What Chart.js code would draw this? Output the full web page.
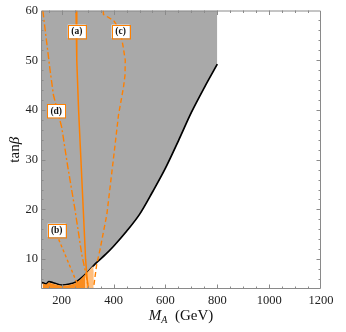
<!DOCTYPE html>
<html><head><meta charset="utf-8">
<script src="https://cdn.jsdelivr.net/npm/chart.js@4"></script>
<style>html,body{margin:0;padding:0;background:#fff;}</style>
</head><body>
<canvas id="c" width="346" height="332"></canvas>
<script>
// Exclusion boundary (black curve), shaded region above it
const boundaryX = [120, 130, 140, 150, 170, 200, 230, 250, 270, 300, 330, 370, 400, 450, 500, 550, 600, 650, 700, 750, 800];
const boundaryY = [5.3, 5.2, 5.0, 5.5, 5.2, 4.8, 5.0, 5.3, 6.0, 7.4, 9.1, 11.0, 12.6, 15.6, 19.0, 23.5, 28.3, 33.8, 39.5, 44.5, 49.2];
// Curve (a) solid
const curveAX = [255, 258, 265, 274, 283, 292, 298, 303];
const curveAY = [60, 50, 40, 30, 20, 10, 6, 4];
// Curve (b) dotted
const curveBX = [180, 258];
const curveBY = [15.0, 5.3];
// Curve (c) dashed
const curveCX = [360, 361, 400, 425, 436, 445, 444, 438, 419, 399, 374, 348, 335, 322];
const curveCY = [60, 59.2, 58, 56, 53, 50, 47, 44.5, 39, 30, 19, 12, 9, 4];
// Curve (d) dash-dot
const curveDX = [127, 155, 168, 200, 222, 251, 277, 294, 303];
const curveDY = [60, 48, 43, 36.5, 29, 20, 11, 6.8, 4];
// Orange allowed region below the boundary
const orangeDarkX = [126, 140, 150, 170, 200, 230, 250, 270, 290];
const orangeDarkY = [5.1, 4.9, 5.3, 5.0, 4.6, 4.8, 5.1, 5.8, 6.9];
const orangeLightX = [290, 300, 315, 333, 322];
const orangeLightY = [6.9, 7.4, 8.3, 9.0, 4.0];
// Tick labels
const xTickValues = [200, 400, 600, 800, 1000, 1200];
const yTickValues = [10, 20, 30, 40, 50, 60];
// Curve labels
const labelTexts = ['(a)', '(b)', '(c)', '(d)'];
const labelX = [258, 180.5, 427, 178.6];
const labelY = [55.8, 15.8, 55.8, 39.8];

const ORANGE = 'rgb(255,128,0)';
const SERIF = '"Liberation Serif", "DejaVu Serif", serif';
function pts(xs, ys) { return xs.map((x, i) => ({ x: x, y: ys[i] })); }

const framePlugin = {
  id: 'frame',
  afterDatasetsDraw(chart) {
    const ctx = chart.ctx, a = chart.chartArea;
    const xs = chart.scales.x, ys = chart.scales.y;
    ctx.save();
    ctx.strokeStyle = '#8a8a8a';
    ctx.lineWidth = 1;
    ctx.beginPath();
    ctx.rect(a.left + 0.5, a.top + 0.5, a.right - a.left - 1, a.bottom - a.top - 1);
    ctx.stroke();
    ctx.beginPath();
    for (let v = 150; v < 1200; v += 50) {
      const px = Math.round(xs.getPixelForValue(v)) + 0.5;
      const L = (v % 200 === 0) ? 4.5 : 2.5;
      ctx.moveTo(px, a.bottom); ctx.lineTo(px, a.bottom - L);
      ctx.moveTo(px, a.top); ctx.lineTo(px, a.top + L);
    }
    for (let v = 6; v < 60; v += 2) {
      const py = Math.round(ys.getPixelForValue(v)) + 0.5;
      const L = (v % 10 === 0) ? 4.5 : 2.5;
      ctx.moveTo(a.left, py); ctx.lineTo(a.left + L, py);
      ctx.moveTo(a.right, py); ctx.lineTo(a.right - L, py);
    }
    ctx.stroke();
    // curve labels
    ctx.font = 'bold 9.5px ' + SERIF;
    ctx.textAlign = 'center';
    ctx.textBaseline = 'middle';
    labelTexts.forEach((t, i) => {
      const cx = xs.getPixelForValue(labelX[i]);
      const cy = ys.getPixelForValue(labelY[i]);
      const w = 18, h = 13.5;
      ctx.fillStyle = '#fff';
      ctx.fillRect(cx - w / 2, cy - h / 2, w, h);
      ctx.strokeStyle = ORANGE;
      ctx.lineWidth = 1;
      ctx.strokeRect(Math.round(cx - w / 2) + 0.5, Math.round(cy - h / 2) + 0.5, w, h);
      ctx.fillStyle = '#111';
      ctx.fillText(t, cx, cy + 0.5);
    });
    ctx.restore();
  },
  afterDraw(chart) {
    const ctx = chart.ctx, a = chart.chartArea;
    ctx.save();
    ctx.fillStyle = '#111';
    ctx.textBaseline = 'alphabetic';
    // x title: M_A  (GeV)
    const f1 = 'italic 15px ' + SERIF, f2 = 'italic 10px ' + SERIF, f3 = '15px ' + SERIF;
    ctx.font = f1; const w1 = ctx.measureText('M').width;
    ctx.font = f2; const w2 = ctx.measureText('A').width;
    ctx.font = f3; const w3 = ctx.measureText('  (GeV)').width;
    let x0 = (a.left + a.right) / 2 - (w1 + w2 + w3) / 2;
    const by = 320;
    ctx.textAlign = 'left';
    ctx.font = f1; ctx.fillText('M', x0, by); x0 += w1;
    ctx.font = f2; ctx.fillText('A', x0, by + 3); x0 += w2;
    ctx.font = f3; ctx.fillText('  (GeV)', x0, by);
    // y title: tanβ
    ctx.translate(19, (a.top + a.bottom) / 2);
    ctx.rotate(-Math.PI / 2);
    const g1 = '15px ' + SERIF, g2 = 'italic 15px ' + SERIF;
    ctx.font = g1; const u1 = ctx.measureText('tan').width;
    ctx.font = g2; const u2 = ctx.measureText('β').width;
    let y0 = -(u1 + u2) / 2;
    ctx.font = g1; ctx.fillText('tan', y0, 0);
    ctx.font = g2; ctx.fillText('β', y0 + u1, 0);
    ctx.restore();
  }
};

new Chart(document.getElementById('c'), {
  type: 'line',
  data: {
    datasets: [
      { data: pts(curveAX, curveAY), borderColor: ORANGE, borderWidth: 1.5, fill: false },
      { data: pts(curveBX, curveBY), borderColor: ORANGE, borderWidth: 1.4, borderDash: [3, 2.5], fill: false },
      { data: pts(curveCX, curveCY), borderColor: ORANGE, borderWidth: 1.4, borderDash: [5, 3], fill: false },
      { data: pts(curveDX, curveDY), borderColor: ORANGE, borderWidth: 1.4, borderDash: [7, 2.5, 2, 2.5], fill: false },
      { data: pts(orangeLightX, orangeLightY), borderWidth: 0, borderColor: 'rgba(0,0,0,0)', backgroundColor: 'rgb(255,190,125)', fill: 'start' },
      { data: pts(orangeDarkX, orangeDarkY), borderWidth: 0, borderColor: 'rgba(0,0,0,0)', backgroundColor: 'rgb(250,140,30)', fill: 'start' },
      { data: pts(boundaryX, boundaryY), borderColor: '#000', borderWidth: 1.7, backgroundColor: '#a9a9a9', fill: 'end', cubicInterpolationMode: 'monotone' }
    ]
  },
  options: {
    responsive: false,
    animation: false,
    devicePixelRatio: 1,
    layout: { padding: { top: 10, right: 25, left: 0, bottom: 0 } },
    plugins: { legend: { display: false }, tooltip: { enabled: false } },
    elements: { point: { radius: 0 }, line: { tension: 0 } },
    scales: {
      x: {
        type: 'linear', min: 120, max: 1200,
        afterBuildTicks: s => { s.ticks = xTickValues.map(v => ({ value: v })); },
        afterFit: s => { s.height = 43; },
        grid: { display: false, drawTicks: false },
        border: { display: false },
        ticks: { padding: 4, autoSkip: false, maxRotation: 0, color: '#222', font: { family: SERIF, size: 12.5 }, callback: v => String(v) }
      },
      y: {
        type: 'linear', min: 4, max: 60,
        afterBuildTicks: s => { s.ticks = yTickValues.map(v => ({ value: v })); },
        afterFit: s => { s.width = 41; },
        grid: { display: false, drawTicks: false },
        border: { display: false },
        ticks: { padding: 3, autoSkip: false, color: '#222', font: { family: SERIF, size: 12.5 }, callback: v => String(v) }
      }
    }
  },
  plugins: [framePlugin]
});
</script>
</body></html>
